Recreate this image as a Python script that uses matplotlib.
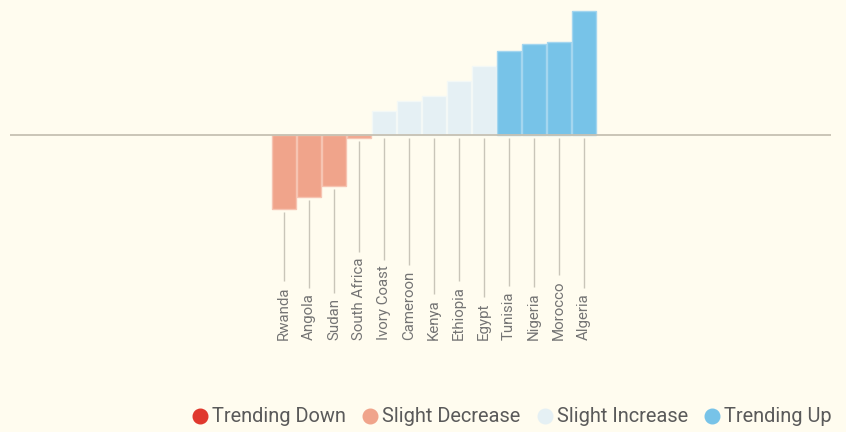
import matplotlib
matplotlib.use("Agg")
import matplotlib.pyplot as plt
from matplotlib.lines import Line2D

# country values (relative change)
countries = ["Rwanda", "Angola", "Sudan", "South Africa", "Ivory Coast", "Cameroon",
             "Kenya", "Ethiopia", "Egypt", "Tunisia", "Nigeria", "Morocco", "Algeria"]
values = [-7.4, -6.2, -5.1, -0.3, 2.4, 3.35, 3.9, 5.35, 6.9, 8.4, 9.05, 9.3, 12.4]
trend = ["Slight Decrease"] * 4 + ["Slight Increase"] * 5 + ["Trending Up"] * 4

legend_names = ["Trending Down", "Slight Decrease", "Slight Increase", "Trending Up"]
colors = {
    "Trending Down": "#e0382d",
    "Slight Decrease": "#f0a48b",
    "Slight Increase": "#e5f0f4",
    "Trending Up": "#77c3e8",
}
edges = {
    "Trending Down": "#ec7a70",
    "Slight Decrease": "#f6c4b2",
    "Slight Increase": "#f3f8f6",
    "Trending Up": "#a4d6ef",
}

bg = "#fffcef"
plt.rcParams["font.family"] = ["Roboto", "DejaVu Sans"]

fig = plt.figure(figsize=(8.46, 4.32), dpi=100, facecolor=bg)
ax = fig.add_axes([0, 0, 1, 1])
ax.set_facecolor(bg)
ax.set_xlim(-11.36, 22.48)
ax.set_ylim(-29.75, 13.45)
ax.axis("off")

xs = list(range(len(countries)))
ax.bar(xs, values, width=0.94,
       color=[colors[t] for t in trend],
       edgecolor=[edges[t] for t in trend], linewidth=1, zorder=2)

# baseline
ax.hlines(0, -10.96, 21.88, color="#c6c1b3", linewidth=1.3, zorder=3)

# rotated country labels
labels = []
for x, name in zip(xs, countries):
    t = ax.text(x, -20.5, name, rotation=90, ha="center", va="bottom",
                fontsize=10.8, color="#747474")
    labels.append(t)

fig.canvas.draw()
renderer = fig.canvas.get_renderer()
inv = ax.transData.inverted()
for x, v, t in zip(xs, values, labels):
    bb = t.get_window_extent(renderer)
    top = inv.transform((0, bb.y1 + 5))[1]
    start = min(v, 0) - 0.3
    ax.vlines(x, top, start, color="#c9c5b9", linewidth=1, zorder=1)

handles = [Line2D([], [], linestyle="none", marker="o", markersize=10.5,
                  markerfacecolor=colors[n], markeredgecolor=colors[n])
           for n in legend_names]
leg = fig.legend(handles, legend_names, loc="center right",
                 bbox_to_anchor=(832 / 846, 1 - 417 / 432), ncol=4,
                 frameon=False, handlelength=0.6,
                 handletextpad=0.3, columnspacing=0.92, borderpad=0,
                 borderaxespad=0, prop={"size": 14.4})
for txt in leg.get_texts():
    txt.set_color("#5a5a5a")

fig.savefig("out.png", dpi=100, facecolor=bg)
